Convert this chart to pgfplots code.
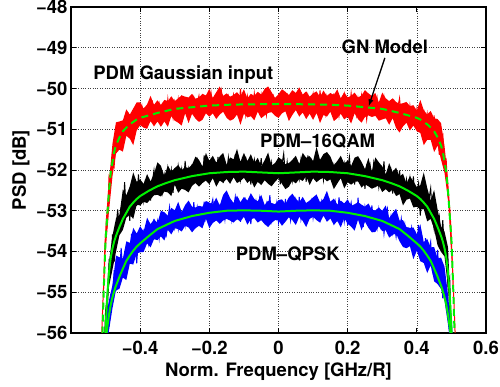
\documentclass[border=0pt]{standalone}
\usepackage{fontspec}
\setmainfont{TeX Gyre Heros}
\usepackage{pgfplots}
\pgfplotsset{compat=1.18}
\newcommand\ff{\fontsize{18.5}{22}\selectfont\bfseries}
\definecolor{gn}{RGB}{0,240,0}
\begin{document}
\begin{tikzpicture}
\begin{axis}[
  at={(0,0)}, anchor=south west,
  scale only axis, width=415pt, height=326pt,
  xmin=-0.6, xmax=0.6, ymin=-56, ymax=-48,
  xtick={-0.4,-0.2,0,0.2,0.4,0.6},
  xticklabels={−0.4,−0.2,0,0.2,0.4,0.6},
  ytick={-56,-55,-54,-53,-52,-51,-50,-49,-48},
  yticklabels={−56,−55,−54,−53,−52,−51,−50,−49,−48},
  tick align=inside, major tick length=5pt,
  tick style={black, line width=0.8pt},
  grid=major, grid style={black!75, dotted, line width=0.6pt},
  axis line style={line width=1.5pt},
  ticklabel style={font=\ff},
  xticklabel style={yshift=-5pt},
  xlabel={Norm. Frequency [GHz/R]},
  xlabel style={font=\ff, at={(axis description cs:0.5,0)}, anchor=base, yshift=-44pt},
]
% ---------- PDM Gaussian input: noise band ----------
\addplot[fill=red, draw=none] coordinates {
(-0.505,-55.0) (-0.505,-54.6)
(-0.50,-53.31) (-0.49,-52.26) (-0.48,-51.35) (-0.47,-50.83) (-0.46,-50.81) (-0.45,-50.78) (-0.44,-50.51) (-0.43,-50.64) (-0.42,-50.49) (-0.41,-50.34)
(-0.40,-50.34) (-0.39,-50.49) (-0.38,-50.39) (-0.37,-50.18) (-0.36,-50.40) (-0.35,-50.29) (-0.34,-50.40) (-0.33,-50.28) (-0.32,-50.31) (-0.31,-50.19)
(-0.30,-50.31) (-0.29,-50.24) (-0.28,-50.17) (-0.27,-50.20) (-0.26,-50.22) (-0.25,-50.13) (-0.24,-50.25) (-0.23,-50.22) (-0.22,-50.13) (-0.21,-50.17)
(-0.20,-50.01) (-0.19,-50.23) (-0.18,-50.09) (-0.17,-49.95) (-0.16,-50.18) (-0.15,-50.12) (-0.14,-50.20) (-0.13,-50.16) (-0.12,-50.09) (-0.11,-50.19)
(-0.10,-50.02) (-0.09,-50.24) (-0.08,-50.13) (-0.07,-50.18) (-0.06,-50.08) (-0.05,-50.15) (-0.04,-50.01) (-0.03,-49.95) (-0.02,-50.09) (-0.01,-50.23)
(0.00,-50.14) (0.01,-50.02) (0.02,-50.08) (0.03,-50.16) (0.04,-50.04) (0.05,-50.11) (0.06,-49.97) (0.07,-50.15) (0.08,-50.07) (0.09,-50.20)
(0.10,-50.12) (0.11,-50.07) (0.12,-50.21) (0.13,-50.05) (0.14,-50.18) (0.15,-50.11) (0.16,-50.16) (0.17,-50.02) (0.18,-50.24) (0.19,-50.09)
(0.20,-50.22) (0.21,-50.18) (0.22,-50.10) (0.23,-50.22) (0.24,-50.17) (0.25,-50.04) (0.26,-50.12) (0.27,-50.18) (0.28,-50.11) (0.29,-50.34)
(0.30,-50.10) (0.31,-50.24) (0.32,-50.31) (0.33,-50.24) (0.34,-50.33) (0.35,-50.38) (0.36,-50.36) (0.37,-50.33) (0.38,-50.43) (0.39,-50.41)
(0.40,-50.54) (0.41,-50.28) (0.42,-50.53) (0.43,-50.64) (0.44,-50.55) (0.45,-50.73) (0.46,-50.75) (0.47,-50.85) (0.48,-51.41) (0.49,-52.22) (0.50,-53.40)
(0.505,-54.55) (0.505,-55.05)
(0.50,-54.06) (0.49,-52.73) (0.48,-52.07) (0.47,-51.75) (0.46,-51.40) (0.45,-51.56) (0.44,-51.26) (0.43,-51.26) (0.42,-51.39) (0.41,-51.09)
(0.40,-51.05) (0.39,-50.91) (0.38,-51.03) (0.37,-50.84) (0.36,-50.93) (0.35,-51.08) (0.34,-50.97) (0.33,-50.73) (0.32,-50.89) (0.31,-50.73)
(0.30,-50.76) (0.29,-50.79) (0.28,-50.67) (0.27,-50.70) (0.26,-50.66) (0.25,-50.70) (0.24,-50.84) (0.23,-50.75) (0.22,-50.61) (0.21,-50.86)
(0.20,-50.69) (0.19,-50.76) (0.18,-50.62) (0.17,-50.73) (0.16,-50.80) (0.15,-50.57) (0.14,-50.69) (0.13,-50.65) (0.12,-50.85) (0.11,-50.60)
(0.10,-50.77) (0.09,-50.62) (0.08,-50.75) (0.07,-50.59) (0.06,-50.69) (0.05,-50.53) (0.04,-50.65) (0.03,-50.80) (0.02,-50.56) (0.01,-50.61)
(0.00,-50.72) (-0.01,-50.67) (-0.02,-50.58) (-0.03,-50.60) (-0.04,-50.66) (-0.05,-50.73) (-0.06,-50.57) (-0.07,-50.78) (-0.08,-50.68) (-0.09,-50.71)
(-0.10,-50.62) (-0.11,-50.89) (-0.12,-50.64) (-0.13,-50.75) (-0.14,-50.79) (-0.15,-50.72) (-0.16,-50.57) (-0.17,-50.64) (-0.18,-50.75) (-0.19,-50.61)
(-0.20,-50.69) (-0.21,-50.61) (-0.22,-50.77) (-0.23,-50.82) (-0.24,-50.74) (-0.25,-50.62) (-0.26,-50.85) (-0.27,-50.61) (-0.28,-50.91) (-0.29,-50.84)
(-0.30,-50.79) (-0.31,-50.68) (-0.32,-50.94) (-0.33,-50.81) (-0.34,-50.94) (-0.35,-50.81) (-0.36,-50.93) (-0.37,-50.80) (-0.38,-50.99) (-0.39,-50.96)
(-0.40,-50.90) (-0.41,-51.03) (-0.42,-51.39) (-0.43,-51.23) (-0.44,-51.16) (-0.45,-51.55) (-0.46,-51.50) (-0.47,-51.60) (-0.48,-52.15) (-0.49,-53.00) (-0.50,-54.00)
} -- cycle;
% PDM Gaussian input: measured trace
\addplot[red, line width=1pt] coordinates {
(-0.514,-56.6) (-0.511,-56.0) (-0.508,-55.3) (-0.505,-54.7) (-0.5025,-54.0)
(-0.500,-53.52) (-0.495,-53.37) (-0.490,-52.13) (-0.485,-52.17) (-0.480,-51.58)
(-0.475,-51.88) (-0.470,-51.33) (-0.465,-50.85) (-0.460,-51.38) (-0.455,-50.85)
(-0.450,-51.43) (-0.445,-50.85) (-0.440,-51.04) (-0.435,-50.59) (-0.430,-51.11)
(-0.425,-50.77) (-0.420,-51.12) (-0.415,-50.65) (-0.410,-50.86) (-0.405,-50.54)
(-0.400,-50.78) (-0.395,-50.45) (-0.390,-50.84) (-0.385,-50.59) (-0.380,-50.87)
(-0.375,-50.50) (-0.370,-50.68) (-0.365,-50.29) (-0.360,-50.81) (-0.355,-50.51)
(-0.350,-50.69) (-0.345,-50.40) (-0.340,-50.82) (-0.335,-50.51) (-0.330,-50.43)
(-0.325,-50.71) (-0.320,-50.26) (-0.315,-50.64) (-0.310,-50.48) (-0.305,-50.72)
(-0.300,-50.33) (-0.295,-50.57) (-0.290,-50.26) (-0.285,-50.62) (-0.280,-50.17)
(-0.275,-50.67) (-0.270,-50.45) (-0.265,-50.32) (-0.260,-50.73) (-0.255,-50.34)
(-0.250,-50.50) (-0.245,-50.24) (-0.240,-50.62) (-0.235,-50.36) (-0.230,-50.18)
(-0.225,-50.54) (-0.220,-50.65) (-0.215,-50.25) (-0.210,-50.49) (-0.205,-50.28)
(-0.200,-50.57) (-0.195,-50.11) (-0.190,-50.49) (-0.185,-50.35) (-0.180,-50.63)
(-0.175,-50.21) (-0.170,-50.52) (-0.165,-50.07) (-0.160,-50.45) (-0.155,-50.30)
(-0.150,-50.60) (-0.145,-50.23) (-0.140,-50.67) (-0.135,-50.32) (-0.130,-50.15)
(-0.125,-50.50) (-0.120,-50.26) (-0.115,-50.57) (-0.110,-50.01) (-0.105,-50.47)
(-0.100,-50.28) (-0.095,-50.64) (-0.090,-50.19) (-0.085,-50.42) (-0.080,-50.22)
(-0.075,-50.53) (-0.070,-50.12) (-0.065,-50.48) (-0.060,-50.33) (-0.055,-50.58)
(-0.050,-50.17) (-0.045,-50.51) (-0.040,-50.24) (-0.035,-50.65) (-0.030,-50.30)
(-0.025,-50.07) (-0.020,-50.46) (-0.015,-50.21) (-0.010,-50.55) (-0.005,-50.35)
(0.000,-50.60) (0.005,-50.26) (0.010,-50.49) (0.015,-50.14) (0.020,-50.44)
(0.025,-50.20) (0.030,-50.68) (0.035,-50.28) (0.040,-50.53) (0.045,-50.16)
(0.050,-50.41) (0.055,-50.23) (0.060,-50.57) (0.065,-50.09) (0.070,-50.47)
(0.075,-50.27) (0.080,-50.63) (0.085,-50.19) (0.090,-50.50) (0.095,-50.32)
(0.100,-50.13) (0.105,-50.54) (0.110,-50.30) (0.115,-50.59) (0.120,-50.05)
(0.125,-50.45) (0.130,-50.25) (0.135,-50.61) (0.140,-50.21) (0.145,-50.48)
(0.150,-50.35) (0.155,-50.57) (0.160,-50.12) (0.165,-50.52) (0.170,-50.19)
(0.175,-50.66) (0.180,-50.30) (0.185,-50.44) (0.190,-50.16) (0.195,-50.59)
(0.200,-50.27) (0.205,-50.50) (0.210,-50.12) (0.215,-50.56) (0.220,-50.37)
(0.225,-50.65) (0.230,-50.25) (0.235,-50.54) (0.240,-50.18) (0.245,-50.61)
(0.250,-50.34) (0.255,-50.76) (0.260,-50.38) (0.265,-50.25) (0.270,-50.58)
(0.275,-50.31) (0.280,-50.55) (0.285,-50.24) (0.290,-50.67) (0.295,-50.47)
(0.300,-50.64) (0.305,-50.23) (0.310,-50.61) (0.315,-50.37) (0.320,-50.77)
(0.325,-50.44) (0.330,-50.61) (0.335,-50.37) (0.340,-50.85) (0.345,-50.46)
(0.350,-50.24) (0.355,-50.72) (0.360,-50.45) (0.365,-50.79) (0.370,-50.58)
(0.375,-50.86) (0.380,-50.43) (0.385,-50.80) (0.390,-50.61) (0.395,-50.88)
(0.400,-50.51) (0.405,-50.80) (0.410,-50.62) (0.415,-51.03) (0.420,-50.52)
(0.425,-50.96) (0.430,-50.63) (0.435,-51.04) (0.440,-50.78) (0.445,-51.29)
(0.450,-50.66) (0.455,-51.31) (0.460,-51.13) (0.465,-51.63) (0.470,-51.18)
(0.475,-51.12) (0.480,-51.95) (0.485,-51.78) (0.490,-52.61) (0.495,-52.94)
(0.500,-53.94)
(0.5025,-54.3) (0.505,-54.8) (0.508,-55.4) (0.511,-56.1) (0.514,-56.6)
};
% ---------- PDM-16QAM: noise band ----------
\addplot[fill=black, draw=none] coordinates {
(-0.50,-55.67) (-0.49,-54.24) (-0.48,-53.61) (-0.47,-53.19) (-0.46,-53.10) (-0.45,-52.47) (-0.44,-52.62) (-0.43,-52.40) (-0.42,-52.06) (-0.41,-52.29)
(-0.40,-52.23) (-0.39,-52.34) (-0.38,-52.10) (-0.37,-52.28) (-0.36,-52.09) (-0.35,-51.81) (-0.34,-51.90) (-0.33,-52.15) (-0.32,-51.89) (-0.31,-52.04)
(-0.30,-51.95) (-0.29,-51.88) (-0.28,-52.00) (-0.27,-51.93) (-0.26,-51.95) (-0.25,-51.87) (-0.24,-51.67) (-0.23,-51.75) (-0.22,-51.91) (-0.21,-51.58)
(-0.20,-51.77) (-0.19,-51.65) (-0.18,-51.82) (-0.17,-51.67) (-0.16,-51.58) (-0.15,-51.87) (-0.14,-51.69) (-0.13,-51.74) (-0.12,-51.48) (-0.11,-51.80)
(-0.10,-51.58) (-0.09,-51.78) (-0.08,-51.61) (-0.07,-51.83) (-0.06,-51.70) (-0.05,-51.91) (-0.04,-51.76) (-0.03,-51.57) (-0.02,-51.89) (-0.01,-51.83)
(0.00,-51.69) (0.01,-51.75) (0.02,-51.86) (0.03,-51.83) (0.04,-51.75) (0.05,-51.65) (0.06,-51.85) (0.07,-51.58) (0.08,-51.70) (0.09,-51.66)
(0.10,-51.78) (0.11,-51.43) (0.12,-51.75) (0.13,-51.61) (0.14,-51.56) (0.15,-51.67) (0.16,-51.88) (0.17,-51.78) (0.18,-51.65) (0.19,-51.84)
(0.20,-51.77) (0.21,-51.90) (0.22,-51.70) (0.23,-51.66) (0.24,-51.80) (0.25,-51.98) (0.26,-51.70) (0.27,-52.04) (0.28,-51.69) (0.29,-51.81)
(0.30,-51.91) (0.31,-52.11) (0.32,-51.83) (0.33,-52.05) (0.34,-51.94) (0.35,-52.16) (0.36,-52.09) (0.37,-52.33) (0.38,-52.15) (0.39,-52.28)
(0.40,-52.42) (0.41,-52.37) (0.42,-52.06) (0.43,-52.44) (0.44,-52.75) (0.45,-52.49) (0.46,-52.97) (0.47,-53.38) (0.48,-53.51) (0.49,-53.89) (0.50,-55.75)
(0.50,-56.42) (0.49,-54.85) (0.48,-54.12) (0.47,-54.01) (0.46,-53.85) (0.45,-53.45) (0.44,-53.20) (0.43,-53.26) (0.42,-52.96) (0.41,-52.97)
(0.40,-52.90) (0.39,-52.92) (0.38,-52.70) (0.37,-52.73) (0.36,-52.87) (0.35,-52.59) (0.34,-52.64) (0.33,-52.48) (0.32,-52.55) (0.31,-52.47)
(0.30,-52.54) (0.29,-52.38) (0.28,-52.42) (0.27,-52.46) (0.26,-52.40) (0.25,-52.35) (0.24,-52.43) (0.23,-52.28) (0.22,-52.29) (0.21,-52.36)
(0.20,-52.30) (0.19,-52.45) (0.18,-52.20) (0.17,-52.33) (0.16,-52.47) (0.15,-52.23) (0.14,-52.28) (0.13,-52.19) (0.12,-52.23) (0.11,-52.30)
(0.10,-52.20) (0.09,-52.37) (0.08,-52.15) (0.07,-52.27) (0.06,-52.22) (0.05,-52.33) (0.04,-52.26) (0.03,-52.41) (0.02,-52.47) (0.01,-52.34)
(0.00,-52.20) (-0.01,-52.29) (-0.02,-52.40) (-0.03,-52.34) (-0.04,-52.25) (-0.05,-52.37) (-0.06,-52.29) (-0.07,-52.43) (-0.08,-52.24) (-0.09,-52.32)
(-0.10,-52.19) (-0.11,-52.27) (-0.12,-52.32) (-0.13,-52.18) (-0.14,-52.34) (-0.15,-52.22) (-0.16,-52.31) (-0.17,-52.26) (-0.18,-52.41) (-0.19,-52.20)
(-0.20,-52.35) (-0.21,-52.26) (-0.22,-52.32) (-0.23,-52.41) (-0.24,-52.32) (-0.25,-52.39) (-0.26,-52.55) (-0.27,-52.49) (-0.28,-52.46) (-0.29,-52.56)
(-0.30,-52.36) (-0.31,-52.64) (-0.32,-52.55) (-0.33,-52.53) (-0.34,-52.65) (-0.35,-52.61) (-0.36,-52.62) (-0.37,-52.72) (-0.38,-52.81) (-0.39,-52.78)
(-0.40,-52.87) (-0.41,-52.85) (-0.42,-53.20) (-0.43,-53.10) (-0.44,-53.17) (-0.45,-53.47) (-0.46,-53.60) (-0.47,-54.01) (-0.48,-54.44) (-0.49,-54.85) (-0.50,-56.35)
} -- cycle;
% PDM-16QAM: measured trace
\addplot[black, line width=1pt] coordinates {
(-0.505,-56.6)
(-0.500,-55.46) (-0.495,-55.09) (-0.490,-54.27) (-0.485,-54.46) (-0.480,-53.58)
(-0.475,-54.25) (-0.470,-53.42) (-0.465,-52.97) (-0.460,-53.47) (-0.455,-52.92)
(-0.450,-53.37) (-0.445,-52.30) (-0.440,-53.06) (-0.435,-52.66) (-0.430,-53.25)
(-0.425,-52.39) (-0.420,-52.76) (-0.415,-52.36) (-0.410,-52.88) (-0.405,-52.11)
(-0.400,-52.68) (-0.395,-52.48) (-0.390,-52.76) (-0.385,-52.24) (-0.380,-52.62)
(-0.375,-52.28) (-0.370,-52.75) (-0.365,-52.31) (-0.360,-52.01) (-0.355,-52.45)
(-0.350,-52.13) (-0.345,-52.52) (-0.340,-52.27) (-0.335,-52.55) (-0.330,-52.13)
(-0.325,-52.39) (-0.320,-51.96) (-0.315,-52.30) (-0.310,-52.00) (-0.305,-52.56)
(-0.300,-52.07) (-0.295,-52.36) (-0.290,-51.90) (-0.285,-52.19) (-0.280,-51.97)
(-0.275,-52.37) (-0.270,-51.78) (-0.265,-52.23) (-0.260,-51.98) (-0.255,-52.40)
(-0.250,-51.86) (-0.245,-52.22) (-0.240,-52.01) (-0.235,-51.77) (-0.230,-52.25)
(-0.225,-51.96) (-0.220,-52.30) (-0.215,-51.64) (-0.210,-52.12) (-0.205,-51.87)
(-0.200,-52.29) (-0.195,-51.81) (-0.190,-52.14) (-0.185,-51.96) (-0.180,-52.22)
(-0.175,-51.68) (-0.170,-52.15) (-0.165,-51.76) (-0.160,-52.32) (-0.155,-51.88)
(-0.150,-52.05) (-0.145,-51.70) (-0.140,-52.22) (-0.135,-51.81) (-0.130,-52.09)
(-0.125,-51.62) (-0.120,-52.15) (-0.115,-51.92) (-0.110,-52.24) (-0.105,-51.76)
(-0.100,-52.11) (-0.095,-51.67) (-0.090,-52.18) (-0.085,-51.86) (-0.080,-52.36)
(-0.075,-51.90) (-0.070,-51.74) (-0.065,-52.13) (-0.060,-51.81) (-0.055,-52.09)
(-0.050,-51.71) (-0.045,-52.23) (-0.040,-51.97) (-0.035,-52.19) (-0.030,-51.68)
(-0.025,-52.13) (-0.020,-51.83) (-0.015,-52.31) (-0.010,-51.90) (-0.005,-52.09)
(0.000,-51.79) (0.005,-52.35) (0.010,-51.87) (0.015,-51.60) (0.020,-52.14)
(0.025,-51.80) (0.030,-52.20) (0.035,-51.94) (0.040,-52.25) (0.045,-51.72)
(0.050,-52.15) (0.055,-51.90) (0.060,-52.21) (0.065,-51.75) (0.070,-52.07)
(0.075,-51.83) (0.080,-52.29) (0.085,-51.64) (0.090,-52.12) (0.095,-51.79)
(0.100,-52.09) (0.105,-51.85) (0.110,-52.22) (0.115,-51.68) (0.120,-52.15)
(0.125,-51.93) (0.130,-52.25) (0.135,-51.81) (0.140,-51.64) (0.145,-52.11)
(0.150,-51.78) (0.155,-52.08) (0.160,-51.88) (0.165,-52.20) (0.170,-51.87)
(0.175,-52.24) (0.180,-51.72) (0.185,-52.12) (0.190,-51.85) (0.195,-52.29)
(0.200,-51.97) (0.205,-51.68) (0.210,-52.19) (0.215,-51.83) (0.220,-52.36)
(0.225,-51.95) (0.230,-52.13) (0.235,-51.82) (0.240,-52.27) (0.245,-51.99)
(0.250,-52.46) (0.255,-51.94) (0.260,-52.24) (0.265,-51.89) (0.270,-52.21)
(0.275,-51.84) (0.280,-52.33) (0.285,-52.06) (0.290,-52.42) (0.295,-52.00)
(0.300,-52.24) (0.305,-51.79) (0.310,-52.45) (0.315,-52.11) (0.320,-52.37)
(0.325,-52.04) (0.330,-52.58) (0.335,-52.23) (0.340,-52.16) (0.345,-52.52)
(0.350,-52.01) (0.355,-52.50) (0.360,-52.34) (0.365,-52.67) (0.370,-52.24)
(0.375,-52.54) (0.380,-52.20) (0.385,-52.66) (0.390,-52.16) (0.395,-52.78)
(0.400,-52.55) (0.405,-52.33) (0.410,-53.12) (0.415,-52.45) (0.420,-52.78)
(0.425,-52.37) (0.430,-53.11) (0.435,-52.72) (0.440,-52.45) (0.445,-53.16)
(0.450,-53.45) (0.455,-52.83) (0.460,-53.38) (0.465,-53.15) (0.470,-53.82)
(0.475,-53.23) (0.480,-54.03) (0.485,-54.01) (0.490,-54.86) (0.495,-54.66)
(0.500,-56.07) (0.505,-56.6)
};
% ---------- PDM-QPSK: noise band ----------
\addplot[fill=blue, draw=none] coordinates {
(-0.50,-55.65) (-0.49,-55.19) (-0.48,-54.82) (-0.47,-54.10) (-0.46,-54.14) (-0.45,-54.17) (-0.44,-53.75) (-0.43,-53.79) (-0.42,-53.42) (-0.41,-53.56)
(-0.40,-53.38) (-0.39,-53.51) (-0.38,-53.17) (-0.37,-53.33) (-0.36,-53.21) (-0.35,-53.30) (-0.34,-53.00) (-0.33,-53.04) (-0.32,-53.12) (-0.31,-52.93)
(-0.30,-52.99) (-0.29,-52.78) (-0.28,-53.03) (-0.27,-52.86) (-0.26,-52.75) (-0.25,-52.90) (-0.24,-52.92) (-0.23,-52.88) (-0.22,-52.90) (-0.21,-52.76)
(-0.20,-52.80) (-0.19,-52.84) (-0.18,-52.68) (-0.17,-52.87) (-0.16,-52.61) (-0.15,-52.50) (-0.14,-52.69) (-0.13,-52.81) (-0.12,-52.63) (-0.11,-52.79)
(-0.10,-52.66) (-0.09,-52.75) (-0.08,-52.57) (-0.07,-52.71) (-0.06,-52.77) (-0.05,-52.61) (-0.04,-52.86) (-0.03,-52.75) (-0.02,-52.81) (-0.01,-52.84)
(0.00,-52.74) (0.01,-52.72) (0.02,-52.83) (0.03,-52.67) (0.04,-52.58) (0.05,-52.70) (0.06,-52.79) (0.07,-52.66) (0.08,-52.81) (0.09,-52.75)
(0.10,-52.67) (0.11,-52.60) (0.12,-52.79) (0.13,-52.71) (0.14,-52.51) (0.15,-52.78) (0.16,-52.70) (0.17,-52.85) (0.18,-52.75) (0.19,-52.82)
(0.20,-52.72) (0.21,-52.88) (0.22,-52.84) (0.23,-52.79) (0.24,-52.85) (0.25,-52.90) (0.26,-52.82) (0.27,-52.98) (0.28,-52.99) (0.29,-52.92)
(0.30,-53.00) (0.31,-52.87) (0.32,-53.18) (0.33,-53.06) (0.34,-52.95) (0.35,-53.24) (0.36,-53.23) (0.37,-53.40) (0.38,-53.42) (0.39,-53.41)
(0.40,-53.58) (0.41,-53.33) (0.42,-53.77) (0.43,-53.69) (0.44,-53.90) (0.45,-53.89) (0.46,-54.17) (0.47,-54.15) (0.48,-54.37) (0.49,-55.05) (0.50,-55.93)
(0.50,-56.52) (0.49,-55.79) (0.48,-55.21) (0.47,-54.92) (0.46,-54.80) (0.45,-54.73) (0.44,-54.34) (0.43,-54.53) (0.42,-54.28) (0.41,-54.24)
(0.40,-53.98) (0.39,-54.19) (0.38,-53.87) (0.37,-53.92) (0.36,-53.89) (0.35,-53.75) (0.34,-53.56) (0.33,-53.59) (0.32,-53.66) (0.31,-53.48)
(0.30,-53.50) (0.29,-53.38) (0.28,-53.52) (0.27,-53.53) (0.26,-53.42) (0.25,-53.27) (0.24,-53.48) (0.23,-53.22) (0.22,-53.49) (0.21,-53.39)
(0.20,-53.32) (0.19,-53.18) (0.18,-53.41) (0.17,-53.25) (0.16,-53.35) (0.15,-53.19) (0.14,-53.27) (0.13,-53.12) (0.12,-53.29) (0.11,-53.23)
(0.10,-53.15) (0.09,-53.20) (0.08,-53.40) (0.07,-53.25) (0.06,-53.15) (0.05,-53.35) (0.04,-53.23) (0.03,-53.16) (0.02,-53.27) (0.01,-53.37)
(0.00,-53.24) (-0.01,-53.23) (-0.02,-53.30) (-0.03,-53.40) (-0.04,-53.33) (-0.05,-53.23) (-0.06,-53.29) (-0.07,-53.18) (-0.08,-53.21) (-0.09,-53.34)
(-0.10,-53.15) (-0.11,-53.26) (-0.12,-53.21) (-0.13,-53.29) (-0.14,-53.24) (-0.15,-53.20) (-0.16,-53.24) (-0.17,-53.32) (-0.18,-53.24) (-0.19,-53.30)
(-0.20,-53.43) (-0.21,-53.19) (-0.22,-53.43) (-0.23,-53.37) (-0.24,-53.43) (-0.25,-53.53) (-0.26,-53.41) (-0.27,-53.37) (-0.28,-53.51) (-0.29,-53.45)
(-0.30,-53.43) (-0.31,-53.58) (-0.32,-53.47) (-0.33,-53.73) (-0.34,-53.63) (-0.35,-53.72) (-0.36,-53.70) (-0.37,-53.90) (-0.38,-53.80) (-0.39,-54.01)
(-0.40,-54.02) (-0.41,-54.05) (-0.42,-54.32) (-0.43,-54.30) (-0.44,-54.70) (-0.45,-54.64) (-0.46,-54.92) (-0.47,-54.95) (-0.48,-55.39) (-0.49,-55.93) (-0.50,-56.40)
} -- cycle;
% PDM-QPSK: measured trace
\addplot[blue, line width=1pt] coordinates {
(-0.505,-56.6)
(-0.500,-56.28) (-0.495,-55.43) (-0.490,-55.84) (-0.485,-55.05) (-0.480,-55.06)
(-0.475,-54.46) (-0.470,-54.97) (-0.465,-54.34) (-0.460,-54.59) (-0.455,-53.91)
(-0.450,-54.50) (-0.445,-54.13) (-0.440,-54.47) (-0.435,-53.79) (-0.430,-54.17)
(-0.425,-53.56) (-0.420,-54.16) (-0.415,-53.70) (-0.410,-54.29) (-0.405,-53.68)
(-0.400,-53.53) (-0.395,-53.86) (-0.390,-53.52) (-0.385,-53.75) (-0.380,-53.36)
(-0.375,-53.81) (-0.370,-53.55) (-0.365,-53.70) (-0.360,-53.20) (-0.355,-53.58)
(-0.350,-53.27) (-0.345,-53.68) (-0.340,-53.29) (-0.335,-53.45) (-0.330,-53.15)
(-0.325,-53.65) (-0.320,-53.19) (-0.315,-52.91) (-0.310,-53.40) (-0.305,-53.07)
(-0.300,-53.42) (-0.295,-53.16) (-0.290,-53.44) (-0.285,-52.95) (-0.280,-53.33)
(-0.275,-53.09) (-0.270,-53.36) (-0.265,-52.93) (-0.260,-53.22) (-0.255,-52.99)
(-0.250,-53.39) (-0.245,-52.79) (-0.240,-53.23) (-0.235,-52.91) (-0.230,-53.19)
(-0.225,-52.96) (-0.220,-53.29) (-0.215,-52.78) (-0.210,-53.20) (-0.205,-53.00)
(-0.200,-53.29) (-0.195,-52.88) (-0.190,-52.72) (-0.185,-53.15) (-0.180,-52.83)
(-0.175,-53.11) (-0.170,-52.90) (-0.165,-53.20) (-0.160,-52.88) (-0.155,-53.21)
(-0.150,-52.72) (-0.145,-53.08) (-0.140,-52.82) (-0.135,-53.23) (-0.130,-52.93)
(-0.125,-52.66) (-0.120,-53.12) (-0.115,-52.79) (-0.110,-53.27) (-0.105,-52.88)
(-0.100,-53.05) (-0.095,-52.76) (-0.090,-53.17) (-0.085,-52.91) (-0.080,-53.33)
(-0.075,-52.85) (-0.070,-53.11) (-0.065,-52.78) (-0.060,-53.07) (-0.055,-52.71)
(-0.050,-53.15) (-0.045,-52.91) (-0.040,-53.23) (-0.035,-52.83) (-0.030,-53.04)
(-0.025,-52.62) (-0.020,-53.22) (-0.015,-52.90) (-0.010,-53.12) (-0.005,-52.81)
(0.000,-53.28) (0.005,-52.95) (0.010,-52.88) (0.015,-53.20) (0.020,-52.71)
(0.025,-53.13) (0.030,-52.97) (0.035,-53.24) (0.040,-52.82) (0.045,-53.09)
(0.050,-52.75) (0.055,-53.14) (0.060,-52.66) (0.065,-53.21) (0.070,-52.98)
(0.075,-52.83) (0.080,-53.30) (0.085,-52.87) (0.090,-53.04) (0.095,-52.77)
(0.100,-53.18) (0.105,-52.90) (0.110,-52.70) (0.115,-53.10) (0.120,-53.23)
(0.125,-52.79) (0.130,-53.06) (0.135,-52.84) (0.140,-53.16) (0.145,-52.67)
(0.150,-53.10) (0.155,-52.95) (0.160,-53.26) (0.165,-52.81) (0.170,-53.15)
(0.175,-52.67) (0.180,-53.09) (0.185,-52.93) (0.190,-53.26) (0.195,-52.87)
(0.200,-53.36) (0.205,-52.98) (0.210,-52.80) (0.215,-53.19) (0.220,-52.94)
(0.225,-53.29) (0.230,-52.68) (0.235,-53.19) (0.240,-52.99) (0.245,-53.40)
(0.250,-52.91) (0.255,-53.17) (0.260,-52.96) (0.265,-53.31) (0.270,-52.87)
(0.275,-53.29) (0.280,-53.13) (0.285,-53.42) (0.290,-52.98) (0.295,-53.37)
(0.300,-53.08) (0.305,-53.56) (0.310,-53.19) (0.315,-52.96) (0.320,-53.41)
(0.325,-53.15) (0.330,-53.55) (0.335,-53.35) (0.340,-53.64) (0.345,-53.29)
(0.350,-53.56) (0.355,-53.20) (0.360,-53.57) (0.365,-53.34) (0.370,-53.90)
(0.375,-53.49) (0.380,-53.79) (0.385,-53.42) (0.390,-53.73) (0.395,-53.56)
(0.400,-53.97) (0.405,-53.35) (0.410,-53.96) (0.415,-53.70) (0.420,-54.28)
(0.425,-53.67) (0.430,-54.19) (0.435,-53.97) (0.440,-53.76) (0.445,-54.45)
(0.450,-54.16) (0.455,-54.68) (0.460,-53.96) (0.465,-54.66) (0.470,-54.47)
(0.475,-55.15) (0.480,-54.73) (0.485,-55.34) (0.490,-55.37) (0.495,-56.01)
(0.500,-55.68) (0.505,-56.6)
};
% ---------- GN model curves ----------
\addplot[gn, line width=2pt] coordinates {
(-0.503,-56.5) (-0.5,-56.2) (-0.495,-55.85) (-0.49,-55.55) (-0.485,-55.3)
(-0.48,-55.12) (-0.475,-54.97) (-0.47,-54.84) (-0.46,-54.62) (-0.45,-54.42)
(-0.44,-54.23) (-0.43,-54.1) (-0.42,-53.98) (-0.41,-53.88) (-0.4,-53.8)
(-0.375,-53.62) (-0.35,-53.45) (-0.325,-53.35) (-0.3,-53.25) (-0.25,-53.13)
(-0.2,-53.05) (-0.15,-53.0) (-0.1,-52.99) (-0.05,-53.0) (0,-53.02)
(0.05,-53.0) (0.1,-52.99) (0.15,-53.0) (0.2,-53.05) (0.25,-53.13)
(0.3,-53.25) (0.325,-53.35) (0.35,-53.45) (0.375,-53.62) (0.4,-53.8)
(0.41,-53.88) (0.42,-53.98) (0.43,-54.1) (0.44,-54.23) (0.45,-54.42)
(0.46,-54.62) (0.47,-54.84) (0.475,-54.97) (0.48,-55.12) (0.485,-55.3)
(0.49,-55.55) (0.495,-55.85) (0.5,-56.2) (0.503,-56.5)
};
\addplot[gn, line width=2pt] coordinates {
(-0.503,-56.5) (-0.5,-55.9) (-0.495,-55.05) (-0.49,-54.5) (-0.485,-54.15)
(-0.48,-53.92) (-0.475,-53.75) (-0.47,-53.62) (-0.46,-53.4) (-0.45,-53.2)
(-0.44,-53.05) (-0.43,-52.9) (-0.42,-52.8) (-0.41,-52.71) (-0.4,-52.64)
(-0.375,-52.51) (-0.35,-52.4) (-0.325,-52.32) (-0.3,-52.25) (-0.25,-52.15)
(-0.2,-52.08) (-0.15,-52.05) (-0.1,-52.04) (-0.05,-52.06) (0,-52.08)
(0.05,-52.06) (0.1,-52.04) (0.15,-52.05) (0.2,-52.08) (0.25,-52.15)
(0.3,-52.25) (0.325,-52.32) (0.35,-52.4) (0.375,-52.51) (0.4,-52.64)
(0.41,-52.71) (0.42,-52.8) (0.43,-52.9) (0.44,-53.05) (0.45,-53.2)
(0.46,-53.4) (0.47,-53.62) (0.475,-53.75) (0.48,-53.92) (0.485,-54.15)
(0.49,-54.5) (0.495,-55.05) (0.5,-55.9) (0.503,-56.5)
};
\addplot[gn, line width=2pt, dash pattern=on 7pt off 5pt] coordinates {
(-0.513,-56.6) (-0.51,-56.3) (-0.505,-54.85) (-0.5,-53.7) (-0.495,-53.1)
(-0.49,-52.5) (-0.485,-52.05) (-0.48,-51.8) (-0.475,-51.55) (-0.47,-51.4)
(-0.46,-51.2) (-0.45,-51.05) (-0.44,-50.96) (-0.43,-50.88)
(-0.42,-50.82) (-0.41,-50.76) (-0.4,-50.72) (-0.375,-50.66) (-0.35,-50.6)
(-0.325,-50.55) (-0.3,-50.5) (-0.25,-50.46) (-0.2,-50.42) (-0.15,-50.4)
(-0.1,-50.39) (-0.05,-50.385) (0,-50.38) (0.05,-50.385) (0.1,-50.39)
(0.15,-50.4) (0.2,-50.42) (0.25,-50.46) (0.3,-50.5) (0.325,-50.55)
(0.35,-50.6) (0.375,-50.66) (0.4,-50.72) (0.41,-50.76) (0.42,-50.82)
(0.43,-50.88) (0.44,-50.96) (0.45,-51.05) (0.46,-51.2) (0.47,-51.4)
(0.475,-51.55) (0.48,-51.8) (0.485,-52.05) (0.49,-52.5) (0.495,-53.1)
(0.5,-53.7) (0.505,-54.85) (0.51,-56.3) (0.513,-56.6)
};
\node[font=\ff, anchor=base west, inner sep=0pt] at (axis cs:-0.536,-49.79) {PDM Gaussian input};
\node[font=\ff, anchor=base west, inner sep=0pt] at (axis cs:0.182,-49.15) {GN Model};
\node[font=\ff, anchor=base west, inner sep=0pt] at (axis cs:-0.054,-51.44) {PDM--16QAM};
\node[font=\ff, anchor=base east, inner sep=0pt] at (axis cs:0.1775,-54.23) {PDM--QPSK};
\draw[-latex, line width=1.3pt] (axis cs:0.3075,-49.25) -- (axis cs:0.261,-50.43);
\end{axis}
\node[font=\ff, rotate=90, anchor=base, inner sep=0pt] at (-45pt,163pt) {PSD [dB]};
\pgfresetboundingbox
\path (-71pt,-54pt) rectangle (429pt,333pt);
\end{tikzpicture}
\end{document}
